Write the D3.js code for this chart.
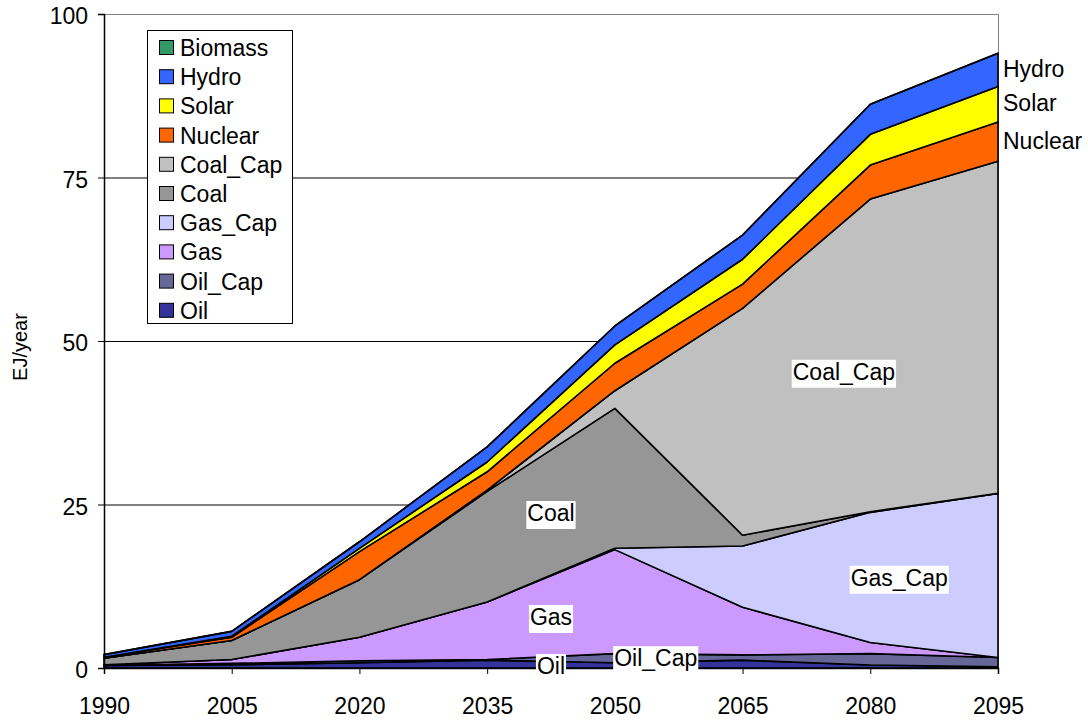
<!DOCTYPE html>
<html>
<head>
<meta charset="utf-8">
<script src="https://cdn.jsdelivr.net/npm/d3@7"></script>
<style>
  html, body { margin: 0; padding: 0; background: #fff; }
  svg { display: block; }
  text { font-family: "Liberation Sans", Arial, sans-serif; fill: #000; }
</style>
</head>
<body>
<svg id="chart" width="1088" height="723"></svg>
<script>
// ---- data ----
const years = [1990, 2005, 2020, 2035, 2050, 2065, 2080, 2095];
const oil     = [0.4, 0.5, 0.8, 1.2, 0.8, 1.2, 0.45, 0.2];
const oilCap  = [0.0, 0.2, 0.3, 0.1, 1.4, 0.8, 1.75, 1.4];
const gas     = [0.1, 0.6, 3.6, 8.8, 15.9, 7.3, 1.7, 0.0];
const gasCap  = [0.0, 0.0, 0.0, 0.0, 0.2, 9.35, 19.9, 25.1];
const coal    = [1.0, 2.9, 8.8, 16.9, 21.4, 1.65, 0.1, 0.0];
const coalCap = [0.0, 0.0, 0.0, 0.2, 2.7, 34.7, 47.8, 50.8];
const nuclear = [0.15, 0.5, 4.3, 2.8, 4.2, 3.7, 5.2, 6.0];
const solar   = [0.0, 0.15, 0.5, 1.5, 2.8, 3.8, 4.7, 5.4];
const hydro   = [0.4, 0.75, 1.0, 2.3, 2.9, 3.7, 4.6, 5.1];
const biomass = [0, 0, 0, 0, 0, 0, 0, 0];

const seriesNames = ["Oil", "Oil_Cap", "Gas", "Gas_Cap", "Coal", "Coal_Cap", "Nuclear", "Solar", "Hydro", "Biomass"];
const seriesValues = [oil, oilCap, gas, gasCap, coal, coalCap, nuclear, solar, hydro, biomass];
const seriesColors = ["#333399", "#666699", "#CC99FF", "#CCCCFF", "#969696", "#C0C0C0", "#FF6600", "#FFFF00", "#3366FF", "#339966"];

const yTicks = [0, 25, 50, 75, 100];
const yLabel = "EJ/year";

// in-plot labels placed at (year, value)
const areaLabels = [
  { text: "Coal_Cap", year: 2076.9, value: 45.3 },
  { text: "Coal",     year: 2042.5, value: 23.7 },
  { text: "Gas",      year: 2042.5, value: 7.8 },
  { text: "Gas_Cap",  year: 2083.4, value: 13.8 },
  { text: "Oil_Cap",  year: 2054.8, value: 1.5 },
  { text: "Oil",      year: 2042.5, value: 0.3 }
];
const endLabels = ["Nuclear", "Solar", "Hydro"];

// ---- chart ----
const svg = d3.select("#chart");
const mLeft = 104, mRight = 998, mTop = 14, mBottom = 668;
const x = d3.scaleLinear().domain([1990, 2095]).range([mLeft, mRight]);
const y = d3.scaleLinear().domain([0, 100]).range([mBottom, mTop]);

const rows = years.map((yr, i) => {
  const r = { year: yr };
  seriesNames.forEach((n, k) => r[n] = seriesValues[k][i]);
  return r;
});
const stacked = d3.stack().keys(seriesNames)(rows);

// gridlines
svg.append("g").selectAll("line").data(yTicks.filter(t => t > 0 && t < 100)).join("line")
  .attr("x1", mLeft).attr("x2", mRight)
  .attr("y1", d => y(d) + 0.5).attr("y2", d => y(d) + 0.5)
  .attr("stroke", "#000").attr("stroke-width", 1);

// plot border (gray)
svg.append("path")
  .attr("d", `M${mLeft},${mTop + 0.5}H${mRight + 0.5}V${mBottom}`)
  .attr("fill", "none").attr("stroke", "#808080").attr("stroke-width", 1);

// areas
const area = d3.area()
  .x(d => x(d.data.year))
  .y0(d => y(d[0]))
  .y1(d => y(d[1]));

svg.append("g").selectAll("path").data(stacked).join("path")
  .attr("d", area)
  .attr("fill", (d, i) => seriesColors[i])
  .attr("stroke", "#000")
  .attr("stroke-width", 1.6)
  .attr("stroke-linejoin", "round");

// axes
const yAxis = d3.axisLeft(y).tickValues(yTicks).tickSize(6).tickPadding(10).tickFormat(d3.format("d"));
const gy = svg.append("g").attr("transform", `translate(${mLeft},0)`).call(yAxis);
gy.select(".domain").attr("stroke", "#000").attr("stroke-width", 1.5);
gy.selectAll(".tick line").attr("stroke", "#000");
gy.selectAll(".tick text").attr("font-size", 23).attr("font-family", "Liberation Sans, Arial, sans-serif").attr("dy", "0.42em");

const xAxis = d3.axisBottom(x).tickValues(years).tickSize(6).tickPadding(24).tickFormat(d3.format("d"));
const gx = svg.append("g").attr("transform", `translate(0,${mBottom})`).call(xAxis);
gx.select(".domain").attr("stroke", "#000").attr("stroke-width", 1.5);
gx.selectAll(".tick line").attr("stroke", "#000");
gx.selectAll(".tick text").attr("font-size", 23).attr("font-family", "Liberation Sans, Arial, sans-serif");

// y label
svg.append("text")
  .attr("transform", `translate(27,${(mTop + mBottom) / 2 + 6}) rotate(-90)`)
  .attr("text-anchor", "middle")
  .attr("font-size", 20)
  .text(yLabel);

// area labels with white boxes
const lg = svg.append("g");
areaLabels.forEach(l => {
  const g = lg.append("g");
  const t = g.append("text")
    .attr("x", x(l.year)).attr("y", y(l.value) + 8)
    .attr("text-anchor", "middle")
    .attr("font-size", 23)
    .text(l.text);
  const bb = t.node().getBBox();
  g.insert("rect", "text")
    .attr("x", bb.x - 1).attr("y", bb.y + 1)
    .attr("width", bb.width + 2).attr("height", bb.height + 2)
    .attr("fill", "#fff");
});

// end labels at 2095
const last = years.length - 1;
endLabels.forEach(n => {
  const s = stacked[seriesNames.indexOf(n)][last];
  svg.append("text")
    .attr("x", mRight + 5)
    .attr("y", y((s[0] + s[1]) / 2) + 7)
    .attr("font-size", 23)
    .text(n);
});

// legend
const legend = svg.append("g");
legend.append("rect")
  .attr("x", 147.5).attr("y", 30.5).attr("width", 145).attr("height", 293)
  .attr("fill", "#fff").attr("stroke", "#000").attr("stroke-width", 1);
const legendOrder = seriesNames.slice().reverse();
legendOrder.forEach((n, i) => {
  const cy = 48 + i * 29.2;
  legend.append("rect")
    .attr("x", 159.5).attr("y", cy - 7.5).attr("width", 14).attr("height", 14)
    .attr("fill", seriesColors[seriesNames.indexOf(n)])
    .attr("stroke", "#000").attr("stroke-width", 1);
  legend.append("text")
    .attr("x", 180).attr("y", cy + 8)
    .attr("font-size", 23)
    .text(n);
});
</script>
</body>
</html>
